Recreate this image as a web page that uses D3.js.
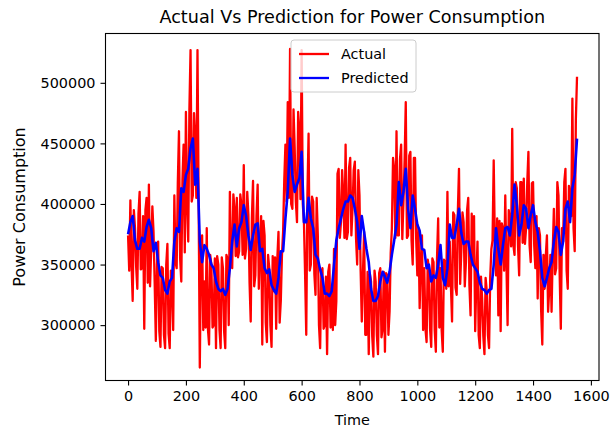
<!DOCTYPE html>
<html>
<head>
<meta charset="utf-8">
<script src="https://cdn.jsdelivr.net/npm/d3@7"></script>
<style>
  html, body { margin: 0; padding: 0; background: #fff; }
  svg { display: block; font-family: "DejaVu Sans", sans-serif; }
</style>
</head>
<body>
<div id="chart"></div>
<script>
// time step between stored samples
const ACTUAL_STEP = 4;
const PREDICTED_STEP = 8;

// actual power consumption (every 4th observation)
const actual = [
  374000, 345000, 403000, 350000, 320000, 395000, 380000, 348000, 330000, 392000,
  410000, 346000, 347000, 390000, 297000, 395000, 405000, 335000, 416000, 332000,
  363000, 398000, 377000, 335000, 287000, 350000, 369000, 295000, 282000, 348000,
  347000, 292000, 281000, 350000, 367000, 293000, 281000, 345000, 336000, 296000,
  407000, 352000, 347000, 418000, 460000, 355000, 336000, 420000, 449000, 360000,
  476000, 400000, 369000, 478000, 527000, 402000, 407000, 475000, 454000, 405000,
  527000, 400000, 265000, 358000, 374000, 296000, 336000, 298000, 380000, 297000,
  284000, 358000, 350000, 298000, 300000, 355000, 281000, 357000, 350000, 296000,
  281000, 356000, 347000, 295000, 281000, 358000, 355000, 300000, 410000, 356000,
  347000, 408000, 396000, 357000, 405000, 356000, 361000, 408000, 399000, 358000,
  432000, 355000, 363000, 410000, 391000, 335000, 303000, 388000, 419000, 332000,
  341000, 390000, 416000, 330000, 363000, 390000, 284000, 386000, 374000, 302000,
  286000, 358000, 347000, 300000, 282000, 357000, 328000, 356000, 297000, 355000,
  377000, 302000, 320000, 358000, 377000, 420000, 449000, 402000, 484000, 405000,
  528000, 400000, 396000, 478000, 446000, 402000, 385000, 476000, 460000, 404000,
  527000, 400000, 385000, 342000, 292000, 408000, 458000, 345000, 350000, 406000,
  402000, 342000, 325000, 405000, 374000, 300000, 281000, 343000, 347000, 297000,
  300000, 340000, 276000, 344000, 350000, 298000, 330000, 296000, 363000, 300000,
  320000, 425000, 429000, 372000, 385000, 428000, 407000, 372000, 449000, 371000,
  377000, 430000, 438000, 374000, 396000, 428000, 435000, 372000, 350000, 428000,
  407000, 345000, 303000, 343000, 377000, 292000, 292000, 344000, 276000, 342000,
  336000, 291000, 274000, 345000, 336000, 292000, 276000, 343000, 347000, 290000,
  297000, 344000, 278000, 343000, 341000, 292000, 311000, 360000, 380000, 438000,
  429000, 372000, 460000, 374000, 374000, 437000, 449000, 371000, 402000, 436000,
  484000, 372000, 374000, 440000, 443000, 370000, 350000, 438000, 438000, 371000,
  341000, 380000, 314000, 353000, 374000, 296000, 347000, 297000, 286000, 354000,
  347000, 297000, 282000, 355000, 352000, 296000, 278000, 355000, 388000, 298000,
  347000, 296000, 278000, 354000, 352000, 330000, 410000, 332000, 369000, 333000,
  303000, 393000, 391000, 331000, 325000, 394000, 429000, 334000, 361000, 393000,
  385000, 332000, 352000, 395000, 405000, 333000, 308000, 392000, 352000, 390000,
  295000, 338000, 369000, 292000, 281000, 340000, 322000, 291000, 276000, 339000,
  328000, 292000, 281000, 340000, 363000, 370000, 436000, 367000, 341000, 388000,
  308000, 386000, 295000, 384000, 380000, 345000, 407000, 350000, 300000, 395000,
  385000, 365000, 462000, 366000, 358000, 418000, 413000, 366000, 341000, 418000,
  418000, 368000, 421000, 367000, 380000, 418000, 443000, 366000, 352000, 417000,
  418000, 366000, 347000, 390000, 322000, 380000, 374000, 312000, 284000, 358000,
  330000, 357000, 374000, 311000, 330000, 358000, 311000, 360000, 396000, 342000,
  347000, 418000, 407000, 342000, 297000, 380000, 369000, 418000, 429000, 345000,
  330000, 415000, 405000, 390000, 487000, 380000, 361000, 470000, 505000
];

// model prediction (every 8th observation)
const predicted = [
  375000, 385000, 390000, 370000, 363000, 363000, 372000, 369000, 381000, 387000,
  380000, 361000, 368000, 352000, 341000, 339000, 329000, 326000, 336000, 339000,
  369000, 380000, 377000, 413000, 410000, 424000, 429000, 446000, 454000, 416000,
  429000, 369000, 352000, 366000, 363000, 358000, 350000, 347000, 336000, 330000,
  328000, 330000, 325000, 330000, 347000, 369000, 383000, 365000, 380000, 385000,
  399000, 390000, 374000, 362000, 374000, 383000, 384000, 361000, 363000, 347000,
  343000, 346000, 333000, 329000, 326000, 339000, 361000, 361000, 388000, 410000,
  454000, 424000, 410000, 416000, 421000, 443000, 385000, 385000, 405000, 388000,
  380000, 358000, 355000, 346000, 339000, 326000, 326000, 324000, 328000, 350000,
  370000, 380000, 388000, 396000, 402000, 402000, 407000, 405000, 396000, 385000,
  363000, 390000, 377000, 363000, 352000, 330000, 320000, 320000, 324000, 336000,
  344000, 340000, 335000, 344000, 358000, 370000, 383000, 418000, 399000, 410000,
  429000, 396000, 380000, 407000, 396000, 383000, 378000, 363000, 362000, 347000,
  350000, 336000, 341000, 339000, 350000, 366000, 339000, 333000, 347000, 383000,
  372000, 372000, 383000, 396000, 376000, 367000, 369000, 369000, 358000, 350000,
  347000, 344000, 335000, 330000, 329000, 326000, 329000, 330000, 350000, 380000,
  363000, 350000, 366000, 380000, 381000, 374000, 391000, 416000, 399000, 374000,
  383000, 399000, 396000, 380000, 391000, 399000, 385000, 377000, 361000, 339000,
  332000, 339000, 347000, 352000, 369000, 381000, 377000, 358000, 369000, 396000,
  402000, 385000, 413000, 424000, 454000
];

const xTicks = [0, 200, 400, 600, 800, 1000, 1200, 1400, 1600];
const yTicks = [300000, 350000, 400000, 450000, 500000];
const xLimits = [-78, 1628];
const yLimits = [254300, 540700];

const seriesNames = ['Actual', 'Predicted'];
const seriesColors = ['#ff0000', '#0000ff'];
const seriesSteps = [ACTUAL_STEP, PREDICTED_STEP];

const width = 613, height = 432;
const margin = { top: 33.5, right: 14, bottom: 51.5, left: 105.5 };

const svg = d3.select('#chart').append('svg')
  .attr('width', width)
  .attr('height', height);

svg.append('rect').attr('width', width).attr('height', height).attr('fill', '#fff');

const x = d3.scaleLinear().domain(xLimits).range([margin.left, width - margin.right]);
const y = d3.scaleLinear().domain(yLimits).range([height - margin.bottom, margin.top]);

const plot = svg.append('g');
plot.append('clipPath').attr('id', 'clip')
  .append('rect')
  .attr('x', margin.left).attr('y', margin.top)
  .attr('width', width - margin.left - margin.right)
  .attr('height', height - margin.top - margin.bottom);

[actual, predicted].forEach((values, k) => {
  const line = d3.line()
    .x((d, i) => x(i * seriesSteps[k]))
    .y(d => y(d));
  plot.append('path')
    .datum(values)
    .attr('clip-path', 'url(#clip)')
    .attr('fill', 'none')
    .attr('stroke', seriesColors[k])
    .attr('stroke-width', k === 0 ? 2.3 : 2.6)
    .attr('stroke-linejoin', 'round')
    .attr('d', line);
});

// axes
const xAxis = svg.append('g')
  .attr('transform', `translate(0,${height - margin.bottom})`)
  .call(d3.axisBottom(x).tickValues(xTicks).tickFormat(d3.format('d')).tickSize(5).tickPadding(5));
const yAxis = svg.append('g')
  .attr('transform', `translate(${margin.left},0)`)
  .call(d3.axisLeft(y).tickValues(yTicks).tickFormat(d3.format('d')).tickSize(5).tickPadding(5));

[xAxis, yAxis].forEach(g => {
  g.select('.domain').remove();
  g.selectAll('line').attr('stroke', '#000').attr('stroke-width', 1.1);
  g.selectAll('text').attr('fill', '#000').attr('font-size', 14.4)
    .attr('font-family', '"DejaVu Sans", sans-serif');
});

// frame
svg.append('rect')
  .attr('x', margin.left).attr('y', margin.top)
  .attr('width', width - margin.left - margin.right)
  .attr('height', height - margin.top - margin.bottom)
  .attr('fill', 'none')
  .attr('stroke', '#000')
  .attr('stroke-width', 1.1);

// title and labels
const cx = (margin.left + width - margin.right) / 2;
svg.append('text')
  .attr('x', cx).attr('y', 23)
  .attr('text-anchor', 'middle')
  .attr('font-size', 17.6)
  .text('Actual Vs Prediction for Power Consumption');

svg.append('text')
  .attr('x', cx).attr('y', 425)
  .attr('text-anchor', 'middle')
  .attr('font-size', 14.4)
  .text('Time');

svg.append('text')
  .attr('transform', `translate(25,${(margin.top + height - margin.bottom) / 2}) rotate(-90)`)
  .attr('text-anchor', 'middle')
  .attr('font-size', 16)
  .text('Power Consumption');

// legend
const legend = svg.append('g').attr('transform', 'translate(291,40)');
legend.append('rect')
  .attr('width', 125).attr('height', 52)
  .attr('rx', 3)
  .attr('fill', '#fff').attr('fill-opacity', 0.8)
  .attr('stroke', '#cccccc').attr('stroke-width', 1);

seriesNames.forEach((name, i) => {
  const row = legend.append('g').attr('transform', `translate(0,${14 + i * 24})`);
  row.append('line')
    .attr('x1', 8).attr('x2', 38)
    .attr('stroke', seriesColors[i]).attr('stroke-width', 2.3);
  row.append('text')
    .attr('x', 50).attr('y', 5)
    .attr('font-size', 14.4)
    .text(name);
});
</script>
</body>
</html>
